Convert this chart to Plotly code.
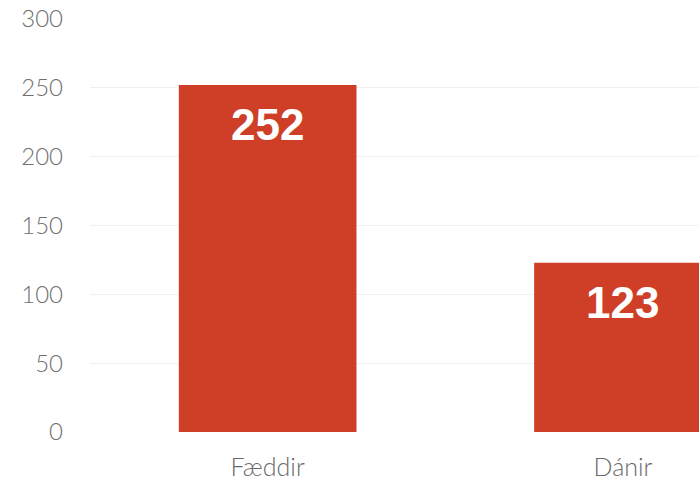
import plotly.graph_objects as go

categories = ["Fæddir", "Dánir"]
values = [252, 123]
y_ticks = [0, 50, 100, 150, 200, 250, 300]

bar_color = "#cf3f28"

fig = go.Figure()
fig.add_trace(go.Bar(
    x=list(range(len(categories))),
    y=values,
    width=0.5,
    marker=dict(color=bar_color, line=dict(width=0)),
    hoverinfo="skip",
))

for i, v in enumerate(values):
    fig.add_annotation(
        x=i, y=v, text=str(v), showarrow=False,
        xref="x", yref="y", yanchor="top", yshift=-13,
        font=dict(family="Liberation Sans", size=44, color="white", weight="bold"),
    )

fig.update_layout(
    width=699, height=481,
    margin=dict(l=90, r=0, t=19, b=49),
    paper_bgcolor="white", plot_bgcolor="white",
    showlegend=False,
    font=dict(family="Lato", color="#707070"),
)
fig.update_xaxes(
    range=[-0.5, 1.214],
    tickvals=list(range(len(categories))),
    ticktext=categories,
    showgrid=False, zeroline=False, showline=False,
    tickfont=dict(family="Lato", size=25, color="#6a6a6a", weight=300),
    ticklabelstandoff=18,
)
fig.update_yaxes(
    range=[0, 300],
    tickvals=y_ticks,
    showgrid=True, gridcolor="#f0f0f0", gridwidth=1,
    zeroline=False, showline=False,
    tickfont=dict(family="Lato", size=24, color="#707070", weight=300),
    ticklabelstandoff=26,
)

fig.write_html(
    "out.html",
    config={"displayModeBar": False},
    post_script="document.body.style.margin='0';document.body.style.overflow='hidden';",
)
